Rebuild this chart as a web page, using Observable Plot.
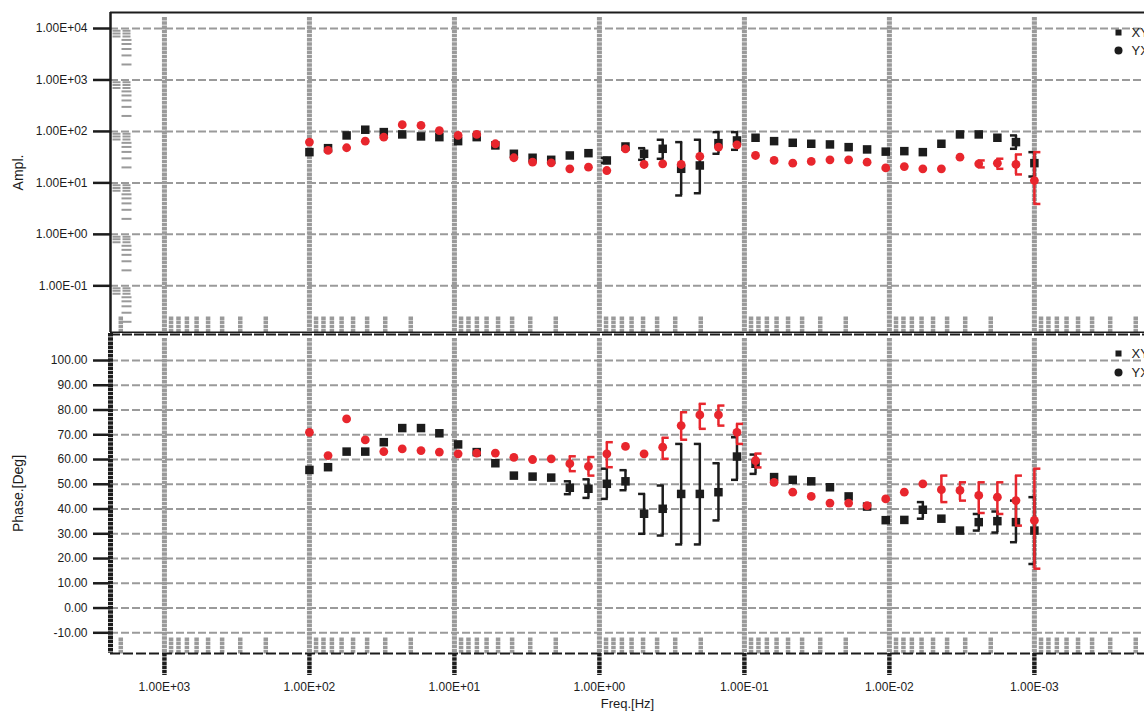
<!DOCTYPE html>
<html><head><meta charset="utf-8">
<script src="https://cdn.jsdelivr.net/npm/d3@7"></script>
<script src="https://cdn.jsdelivr.net/npm/@observablehq/plot@0.6"></script>
<style>
html,body{margin:0;padding:0;background:#fff;overflow:hidden}
#chart svg{display:block}
</style></head><body><div id="chart"></div>
<script>
// ---- data ----
const freq = [100, 74.4, 55.4, 41.2, 30.7, 22.9, 17.0, 12.7, 9.43, 7.02, 5.22, 3.89, 2.89, 2.15, 1.60, 1.19, 0.889, 0.661, 0.492, 0.366, 0.273, 0.203, 0.151, 0.1125, 0.0838, 0.0624, 0.0464, 0.0346, 0.0257, 0.0191, 0.01425, 0.0106, 0.00789, 0.00588, 0.00438, 0.00326, 0.00242, 0.00180, 0.00134, 0.001];

const ampXY = [39.6, 47.3, 83.6, 108, 97, 87.5, 80, 77.5, 64.8, 77.5, 53.5, 36.8, 30.8, 28.1, 34.1, 37.8, 27.3, 51, 36.8, 46, 18.8, 21.8, 59.2, 66.8, 75.4, 64.8, 60.2, 57.6, 55.9, 49.5, 44.7, 40.5, 41.4, 39.6, 57.6, 87.5, 87.5, 75.4, 62, 24.2];
const ampXYLo = [null,null,null,null,null,null,null,null,null,null,null,null,null,null,null,null,24.5,null,28.1,29.4,5.7,6.3,36.8,44,null,null,null,null,null,null,null,null,null,null,null,null,null,null,46,13.3];
const ampXYHi = [null,null,null,null,null,null,null,null,null,null,null,null,null,null,null,null,30.5,null,47.3,68.9,62,68.9,97,97,null,null,null,null,null,null,null,null,null,null,null,null,null,null,83.6,39.6];

const ampYX = [62, 42.7, 48.2, 64.8, 77.5, 135, 131, 104, 83.6, 87.5, 57.6, 30.8, 25.3, 24.6, 18.8, 20.2, 17.4, 46, 22.8, 23.5, 22.8, 32.7, 49.5, 55, 34.1, 27.3, 24.2, 26.1, 28.1, 28.1, 25.3, 19.5, 20.8, 18.8, 18.8, 31.6, 23.5, 24.2, 22.8, 11.1];
const ampYXLo = [null,null,null,null,null,null,null,null,null,null,null,null,null,null,null,null,null,null,null,null,null,null,null,null,null,null,null,null,null,null,null,null,null,null,null,null,20,18.8,14.6,3.9];
const ampYXHi = [null,null,null,null,null,null,null,null,null,null,null,null,null,null,null,null,null,null,null,null,null,null,null,null,null,null,null,null,null,null,null,null,null,null,null,null,27.3,29.5,35.7,39.6];

const phaXY = [55.8, 56.9, 63.2, 63.2, 67.0, 72.7, 72.7, 70.6, 66.1, 63.0, 58.5, 53.5, 53.1, 52.7, 48.6, 48.2, 50.2, 51.2, 38.1, 40.1, 46.1, 46.1, 46.8, 61.2, 58.3, 52.9, 51.8, 51.2, 48.8, 45.1, 41.0, 35.5, 35.6, 39.7, 36.1, 31.3, 34.7, 35.1, 34.7, 31.3];
const phaXYLo = [null,null,null,null,null,null,null,null,null,null,null,null,null,null,46,44.5,44.1,47.6,30,29.3,25.7,25.7,35.4,51.8,54.2,null,null,null,null,null,null,null,null,36.1,null,null,31.3,30.5,26.6,17.8];
const phaXYHi = [null,null,null,null,null,null,null,null,null,null,null,null,null,null,51.2,52,56.3,55.7,46.1,49.5,66.3,66.3,58.5,69,62,null,null,null,null,null,null,null,null,42.8,null,null,38,39,43.4,44.8];

const phaYX = [71.0, 61.6, 76.4, 67.9, 63.2, 64.3, 63.6, 63.0, 62.3, 62.6, 62.6, 60.9, 60.0, 60.3, 58.3, 57.2, 62.3, 65.3, 62.3, 65.0, 73.7, 78.0, 78.0, 71.0, 59.6, 50.8, 46.8, 45.1, 42.4, 42.4, 41.4, 44.1, 46.8, 50.2, 47.8, 47.5, 45.5, 44.8, 43.4, 35.4];
const phaYXLo = [null,null,null,null,null,null,null,null,null,null,null,null,null,null,55.3,53.5,56.9,null,null,60.3,68,72.4,73.7,66.3,56.8,null,null,null,null,null,null,null,null,null,42.8,43.4,38.4,38,33.3,15.9];
const phaYXHi = [null,null,null,null,null,null,null,null,null,null,null,null,null,null,61.3,61,67,null,null,68.8,79.1,82.5,81.8,74.4,62.4,null,null,null,null,null,null,null,null,null,53.5,50.8,50.8,50.8,53.5,56.3];

const freqTicks = [1e3, 1e2, 1e1, 1, 0.1, 0.01, 0.001];
const ampTicks = [1e-1, 1, 1e1, 1e2, 1e3, 1e4];
const phaseTicks = [-10, 0, 10, 20, 30, 40, 50, 60, 70, 80, 90, 100];
const seriesNames = ["XY", "YX"];

// ---- scales / styling ----
const xDomain = [2355, 1.74e-4];
const ampDomain = [0.01239, 20470];
const phaseDomain = [-18.36, 110.91];
const BLACK = "#1c1c1c", RED = "#e8262d", GRAY = "#9a9a9a";
const font = "Liberation Sans, Arial, Helvetica, sans-serif";

const sciFmt = d => {
  const e = Math.round(Math.log10(d));
  return "1.00E" + (e < 0 ? "-" : "+") + String(Math.abs(e)).padStart(2, "0");
};
const decades = [-4, -3, -2, -1, 0, 1, 2, 3];
const minorsIn = (lo, hi) => decades.flatMap(e => [2,3,4,5,6,7,8,9].map(m => m * Math.pow(10, e))).filter(v => v > lo && v < hi);
const xMinors = minorsIn(xDomain[1], xDomain[0]);
const yMinors = minorsIn(ampDomain[0], 19000);
const mant = v => v / Math.pow(10, Math.floor(Math.log10(v) + 1e-9));
const yMinorsLong = yMinors.filter(v => mant(v) >= 6.5);
const yMinorsShort = yMinors.filter(v => mant(v) < 6.5);

const vTick = {draw(ctx) { ctx.moveTo(0, 0); ctx.lineTo(0, -16); }};
const hLong = {draw(ctx) { ctx.moveTo(2, 0); ctx.lineTo(21, 0); }};
const hShort = {draw(ctx) { ctx.moveTo(11, 0); ctx.lineTo(21, 0); }};
const cap = {draw(ctx) { ctx.moveTo(-3.5, 0); ctx.lineTo(3.5, 0); }};

const idx = freq.map((_, i) => i);

function errMarks(lo, hi, color, capDx) {
  const ids = idx.filter(i => lo[i] != null);
  return [
    Plot.ruleX(ids, {x: i => freq[i], y1: i => lo[i], y2: i => hi[i], stroke: color, strokeWidth: 2.5}),
    Plot.dot(ids, {x: i => freq[i], y: i => hi[i], symbol: cap, fill: "none", stroke: color, strokeWidth: 2.5, dx: capDx}),
    Plot.dot(ids, {x: i => freq[i], y: i => lo[i], symbol: cap, fill: "none", stroke: color, strokeWidth: 2.5, dx: capDx})
  ];
}

function legendMarks(dy1, dy2) {
  return [
    Plot.dot([seriesNames[0]], {x: null, y: null, frameAnchor: "top-right", dx: -26, dy: dy1, symbol: "square", fill: BLACK, r: 3.4}),
    Plot.dot([seriesNames[1]], {x: null, y: null, frameAnchor: "top-right", dx: -26, dy: dy2, symbol: "circle", fill: BLACK, r: 4}),
    Plot.text([seriesNames[0]], {frameAnchor: "top-right", dx: -13, dy: dy1, textAnchor: "start", lineAnchor: "middle", fontSize: 13, fill: BLACK}),
    Plot.text([seriesNames[1]], {frameAnchor: "top-right", dx: -13, dy: dy2, textAnchor: "start", lineAnchor: "middle", fontSize: 13, fill: BLACK})
  ];
}

const common = {
  width: 1144, marginLeft: 110, marginRight: 0,
  style: {fontFamily: font, fontSize: "12px", color: BLACK, background: "white"},
  x: {type: "log", domain: xDomain, axis: null}
};

const ampPlot = Plot.plot({
  ...common,
  height: 333, marginTop: 12, marginBottom: 1,
  y: {type: "log", domain: ampDomain},
  marks: [
    Plot.ruleY(ampTicks, {stroke: GRAY, strokeWidth: 2, strokeDasharray: "8,3"}),
    Plot.ruleX(freqTicks, {stroke: GRAY, strokeWidth: 5, strokeDasharray: "3.5,0.7", insetTop: 5}),
    Plot.dot(xMinors, {x: d => d, frameAnchor: "bottom", symbol: vTick, fill: "none", stroke: GRAY, strokeWidth: 4.5, strokeDasharray: "3.5,0.7"}),
    Plot.dot(yMinorsLong, {y: d => d, frameAnchor: "left", symbol: hLong, fill: "none", stroke: GRAY, strokeWidth: 2, strokeDasharray: "8,2"}),
    Plot.dot(yMinorsShort, {y: d => d, frameAnchor: "left", symbol: hShort, fill: "none", stroke: GRAY, strokeWidth: 2}),
    Plot.ruleY([ampDomain[1]], {stroke: BLACK, strokeWidth: 2}),
    Plot.ruleY([ampDomain[0]], {stroke: BLACK, strokeWidth: 2}),
    Plot.ruleX([xDomain[0]], {stroke: BLACK, strokeWidth: 2.5}),
    Plot.axisY(ampTicks, {tickFormat: sciFmt, tickSize: 17, tickPadding: 6, strokeWidth: 2.5, fontSize: 12, label: null}),
    Plot.text(["Ampl."], {frameAnchor: "left", dx: -92, rotate: -90, textAnchor: "middle", lineAnchor: "middle", fontSize: 14, fill: BLACK}),
    ...errMarks(ampXYLo, ampXYHi, BLACK, -2.5),
    Plot.dot(idx, {x: i => freq[i], y: i => ampXY[i], symbol: "square", fill: BLACK, r: 4.8}),
    ...errMarks(ampYXLo, ampYXHi, RED, 2.5),
    Plot.dot(idx, {x: i => freq[i], y: i => ampYX[i], symbol: "circle", fill: RED, r: 4.4}),
    ...legendMarks(20, 38)
  ]
});

const phasePlot = Plot.plot({
  ...common,
  height: 378, marginTop: 0, marginBottom: 58,
  y: {domain: phaseDomain},
  marks: [
    Plot.ruleY(phaseTicks, {stroke: GRAY, strokeWidth: 2, strokeDasharray: "8,3"}),
    Plot.ruleX(freqTicks, {stroke: GRAY, strokeWidth: 5, strokeDasharray: "3.5,0.7", insetTop: 5}),
    Plot.dot(xMinors, {x: d => d, frameAnchor: "bottom", symbol: vTick, fill: "none", stroke: GRAY, strokeWidth: 4.5, strokeDasharray: "3.5,0.7"}),
    Plot.ruleY([phaseDomain[1]], {stroke: BLACK, strokeWidth: 2, strokeDasharray: "10,2", dy: 1}),
    Plot.ruleY([phaseDomain[0]], {stroke: BLACK, strokeWidth: 2, strokeDasharray: "10,3"}),
    Plot.ruleX([xDomain[0]], {stroke: BLACK, strokeWidth: 5, strokeDasharray: "3.5,0.7"}),
    Plot.axisY(phaseTicks, {tickFormat: d => d.toFixed(2), tickSize: 17, tickPadding: 6, strokeWidth: 2.5, fontSize: 12, label: null}),
    Plot.axisX(freqTicks, {tickFormat: sciFmt, tickSize: 22, tickPadding: 7, strokeWidth: 4.5, strokeDasharray: "3.5,0.7", fontSize: 12, label: null}),
    Plot.text(["Phase.[Deg]"], {frameAnchor: "left", dx: -92, rotate: -90, textAnchor: "middle", lineAnchor: "middle", fontSize: 14, fill: BLACK}),
    Plot.text(["Freq.[Hz]"], {frameAnchor: "bottom", dy: 50, lineAnchor: "middle", fontSize: 13, fill: BLACK}),
    ...errMarks(phaXYLo, phaXYHi, BLACK, -2.5),
    Plot.dot(idx, {x: i => freq[i], y: i => phaXY[i], symbol: "square", fill: BLACK, r: 4.8}),
    ...errMarks(phaYXLo, phaYXHi, RED, 2.5),
    Plot.dot(idx, {x: i => freq[i], y: i => phaYX[i], symbol: "circle", fill: RED, r: 4.4}),
    ...legendMarks(20, 39)
  ]
});

const el = document.getElementById("chart");
el.appendChild(ampPlot);
el.appendChild(phasePlot);
</script>
</body></html>
